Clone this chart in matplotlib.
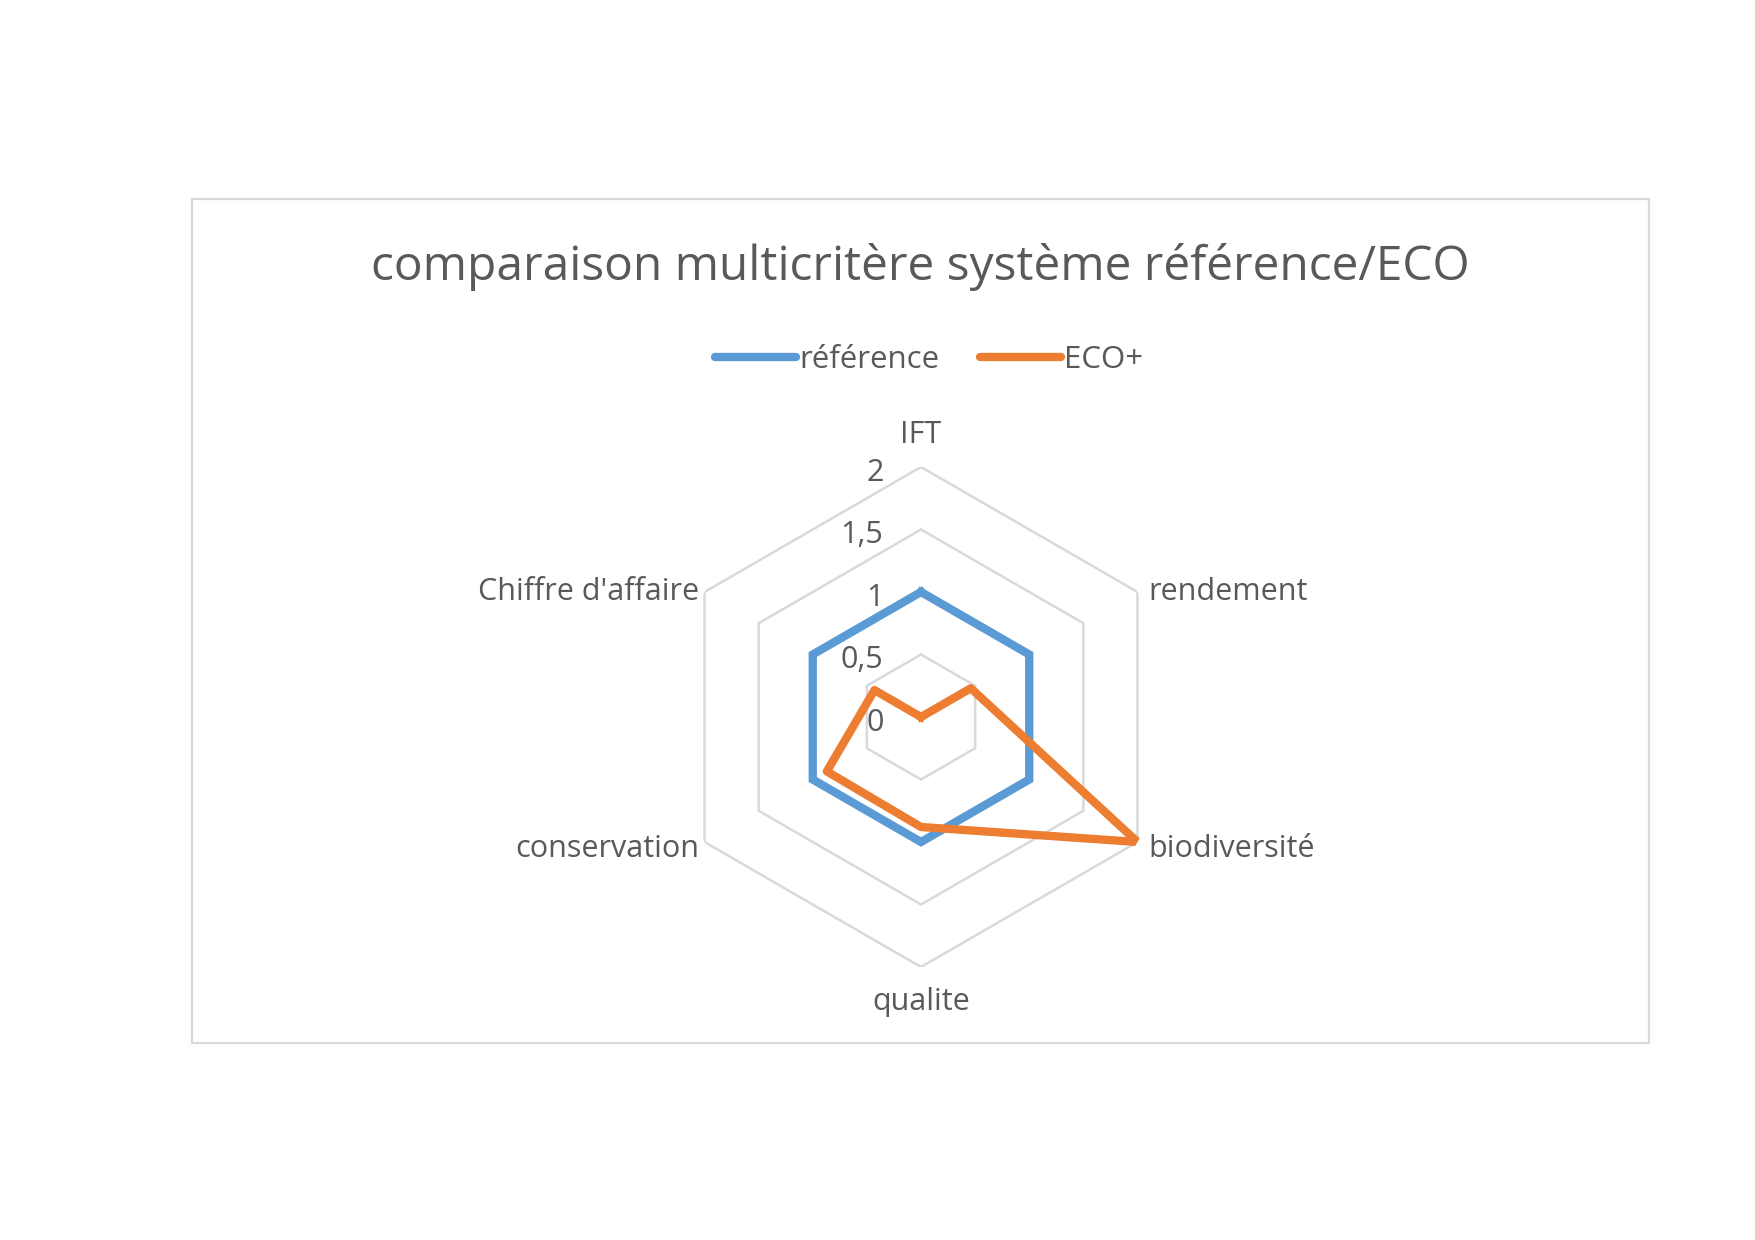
import numpy as np
import matplotlib
matplotlib.use('Agg')
import matplotlib.pyplot as plt
from matplotlib.patches import Rectangle

plt.rcParams['font.family'] = ['Open Sans', 'DejaVu Sans']

# Data
categories = ['IFT', 'rendement', 'biodiversité', 'qualite', 'conservation', "Chiffre d'affaire"]
reference = [1, 1, 1, 1, 1, 1]
eco_plus = [0, 0.46, 2, 0.88, 0.87, 0.43]
series_names = ['référence', 'ECO+']
r_ticks = [0, 0.5, 1, 1.5, 2]
r_tick_labels = ['0', '0,5', '1', '1,5', '2']

blue = '#5B9BD5'
orange = '#ED7D31'
gridcol = '#D9D9D9'
textcol = '#595959'

W, H = 1755, 1240
fig = plt.figure(figsize=(W / 100, H / 100), dpi=100)

# chart border
fig.patches.append(Rectangle((192 / W, 197 / H), (1649 - 192) / W, (1043 - 199) / H,
                             transform=fig.transFigure, fill=False,
                             edgecolor=gridcol, linewidth=1.6))

fig.text(920 / W, 1 - 267 / H, 'comparaison multicritère système référence/ECO',
         ha='center', va='center', fontsize=34.5, color=textcol)

# radar axes
cx, cy, rad = 921, 717, 250
ax = fig.add_axes([(cx - rad) / W, (H - cy - rad) / H, 2 * rad / W, 2 * rad / H],
                  projection='polar')
ax.set_theta_offset(np.pi / 2)
ax.set_theta_direction(-1)
ax.set_ylim(0, 2)
ax.grid(False)
ax.spines['polar'].set_visible(False)
ax.set_xticks([])
ax.set_yticks([])
ax.patch.set_alpha(0)

n = len(categories)
angles = np.linspace(0, 2 * np.pi, n, endpoint=False)
ang_closed = np.append(angles, angles[0])

# hexagonal gridlines
for r in r_ticks[1:]:
    ax.plot(ang_closed, [r] * (n + 1), color=gridcol, lw=1.8, zorder=1)

l1, = ax.plot(ang_closed, reference + reference[:1], color=blue, lw=6,
              solid_joinstyle='miter', zorder=3, label=series_names[0])
l2, = ax.plot(ang_closed, eco_plus + eco_plus[:1], color=orange, lw=6,
              solid_joinstyle='round', zorder=4, label=series_names[1])

# radial tick labels
for r, lab in zip(r_ticks, r_tick_labels):
    ax.annotate(lab, xy=(0, r), xytext=(-27, -4), textcoords='offset points',
                ha='right', va='center', fontsize=22, color=textcol)

# category labels
offsets = [((0, 23), 'center'), ((8, 0), 'left'), ((8, -5), 'left'),
           ((0, -25), 'center'), ((-4, -5), 'right'), ((-4, 0), 'right')]
for a, lab, (off, ha) in zip(angles, categories, offsets):
    ax.annotate(lab, xy=(a, 2), xytext=off, textcoords='offset points',
                ha=ha, va='center', fontsize=22, color=textcol,
                annotation_clip=False)

leg = fig.legend(handles=[l1, l2], loc='center', bbox_to_anchor=(929 / W, 1 - 360 / H),
                 ncol=2, frameon=False, fontsize=22.5, handlelength=2.6,
                 handletextpad=0.1, columnspacing=1.3, labelcolor=textcol)
for h in leg.get_lines():
    h.set_solid_capstyle('round')
    h.set_linewidth(6)

fig.savefig('out.png', dpi=100)
